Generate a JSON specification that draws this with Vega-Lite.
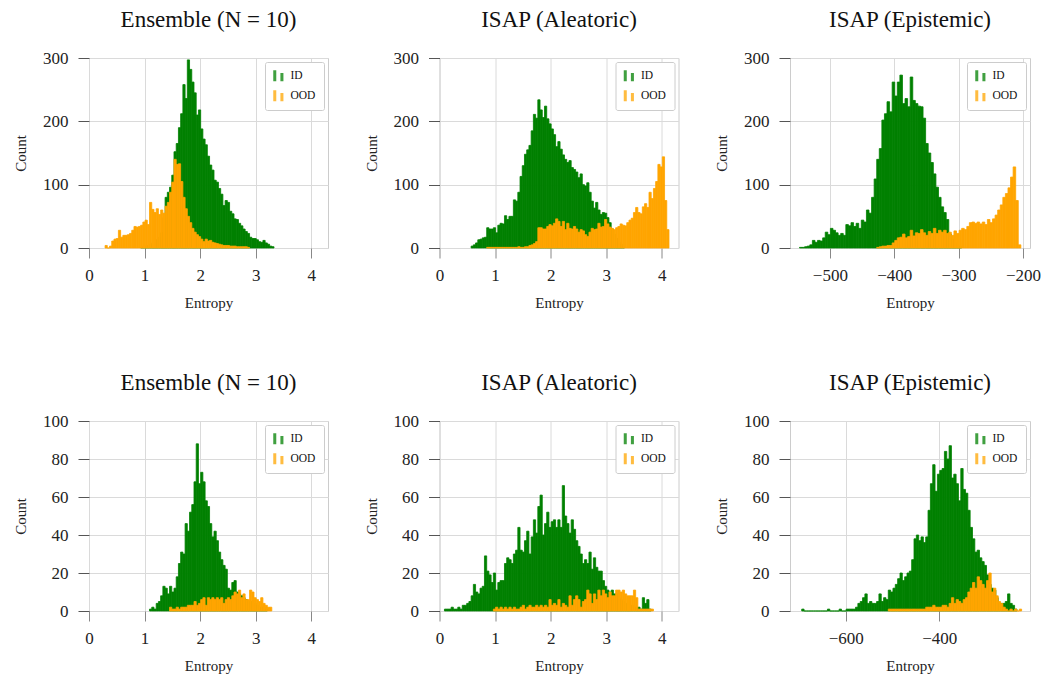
{
  "$schema": "https://vega.github.io/schema/vega-lite/v6.json",
  "padding": {"left": 13, "top": 8, "right": 5, "bottom": 5},
  "bounds": "flush",
  "columns": 3,
  "spacing": {"column": 111.5, "row": 173},
  "resolve": {"scale": {"color": "independent"}, "legend": {"color": "independent"}},
  "datasets": {
    "tl": [
      {"s":"ID","x":0.92,"c":1},{"s":"ID","x":0.96,"c":2},{"s":"ID","x":1.00,"c":3},{"s":"ID","x":1.04,"c":4},{"s":"ID","x":1.08,"c":6},{"s":"ID","x":1.12,"c":8},{"s":"ID","x":1.16,"c":10},{"s":"ID","x":1.20,"c":13},{"s":"ID","x":1.24,"c":17},{"s":"ID","x":1.28,"c":24},{"s":"ID","x":1.32,"c":48},{"s":"ID","x":1.36,"c":80},{"s":"ID","x":1.40,"c":88},{"s":"ID","x":1.44,"c":96},{"s":"ID","x":1.48,"c":115},{"s":"ID","x":1.52,"c":152},{"s":"ID","x":1.56,"c":165},{"s":"ID","x":1.60,"c":190},{"s":"ID","x":1.64,"c":212},{"s":"ID","x":1.68,"c":258},{"s":"ID","x":1.72,"c":236},{"s":"ID","x":1.76,"c":297},{"s":"ID","x":1.80,"c":282},{"s":"ID","x":1.84,"c":262},{"s":"ID","x":1.88,"c":245},{"s":"ID","x":1.92,"c":210},{"s":"ID","x":1.96,"c":218},{"s":"ID","x":2.00,"c":188},{"s":"ID","x":2.04,"c":172},{"s":"ID","x":2.08,"c":163},{"s":"ID","x":2.12,"c":145},{"s":"ID","x":2.16,"c":131},{"s":"ID","x":2.20,"c":123},{"s":"ID","x":2.24,"c":107},{"s":"ID","x":2.28,"c":104},{"s":"ID","x":2.32,"c":94},{"s":"ID","x":2.36,"c":85},{"s":"ID","x":2.40,"c":67},{"s":"ID","x":2.44,"c":75},{"s":"ID","x":2.48,"c":72},{"s":"ID","x":2.52,"c":58},{"s":"ID","x":2.56,"c":54},{"s":"ID","x":2.60,"c":46},{"s":"ID","x":2.64,"c":45},{"s":"ID","x":2.68,"c":39},{"s":"ID","x":2.72,"c":35},{"s":"ID","x":2.76,"c":30},{"s":"ID","x":2.80,"c":26},{"s":"ID","x":2.84,"c":23},{"s":"ID","x":2.88,"c":17},{"s":"ID","x":2.92,"c":15},{"s":"ID","x":2.96,"c":15},{"s":"ID","x":3.00,"c":13},{"s":"ID","x":3.04,"c":10},{"s":"ID","x":3.08,"c":9},{"s":"ID","x":3.12,"c":12},{"s":"ID","x":3.16,"c":8},{"s":"ID","x":3.20,"c":6},{"s":"ID","x":3.24,"c":3},{"s":"ID","x":3.28,"c":2},
      {"s":"OOD","x":0.28,"c":4},{"s":"OOD","x":0.32,"c":0},{"s":"OOD","x":0.36,"c":3},{"s":"OOD","x":0.40,"c":11},{"s":"OOD","x":0.44,"c":14},{"s":"OOD","x":0.48,"c":15},{"s":"OOD","x":0.52,"c":28},{"s":"OOD","x":0.56,"c":17},{"s":"OOD","x":0.60,"c":20},{"s":"OOD","x":0.64,"c":20},{"s":"OOD","x":0.68,"c":21},{"s":"OOD","x":0.72,"c":23},{"s":"OOD","x":0.76,"c":28},{"s":"OOD","x":0.80,"c":34},{"s":"OOD","x":0.84,"c":33},{"s":"OOD","x":0.88,"c":34},{"s":"OOD","x":0.92,"c":36},{"s":"OOD","x":0.96,"c":41},{"s":"OOD","x":1.00,"c":44},{"s":"OOD","x":1.04,"c":37},{"s":"OOD","x":1.08,"c":72},{"s":"OOD","x":1.12,"c":61},{"s":"OOD","x":1.16,"c":56},{"s":"OOD","x":1.20,"c":62},{"s":"OOD","x":1.24,"c":53},{"s":"OOD","x":1.28,"c":60},{"s":"OOD","x":1.32,"c":55},{"s":"OOD","x":1.36,"c":66},{"s":"OOD","x":1.40,"c":72},{"s":"OOD","x":1.44,"c":88},{"s":"OOD","x":1.48,"c":104},{"s":"OOD","x":1.52,"c":140},{"s":"OOD","x":1.56,"c":132},{"s":"OOD","x":1.60,"c":133},{"s":"OOD","x":1.64,"c":105},{"s":"OOD","x":1.68,"c":80},{"s":"OOD","x":1.72,"c":62},{"s":"OOD","x":1.76,"c":50},{"s":"OOD","x":1.80,"c":40},{"s":"OOD","x":1.84,"c":31},{"s":"OOD","x":1.88,"c":25},{"s":"OOD","x":1.92,"c":21},{"s":"OOD","x":1.96,"c":18},{"s":"OOD","x":2.00,"c":14},{"s":"OOD","x":2.04,"c":10},{"s":"OOD","x":2.08,"c":14},{"s":"OOD","x":2.12,"c":11},{"s":"OOD","x":2.16,"c":12},{"s":"OOD","x":2.20,"c":9},{"s":"OOD","x":2.24,"c":8},{"s":"OOD","x":2.28,"c":7},{"s":"OOD","x":2.32,"c":6},{"s":"OOD","x":2.36,"c":5},{"s":"OOD","x":2.40,"c":4},{"s":"OOD","x":2.44,"c":4},{"s":"OOD","x":2.48,"c":4},{"s":"OOD","x":2.52,"c":3},{"s":"OOD","x":2.56,"c":3},{"s":"OOD","x":2.60,"c":3},{"s":"OOD","x":2.64,"c":2},{"s":"OOD","x":2.68,"c":2},{"s":"OOD","x":2.72,"c":2},{"s":"OOD","x":2.76,"c":2},{"s":"OOD","x":2.80,"c":2},{"s":"OOD","x":2.84,"c":1}
    ],
    "tm": [
      {"s":"ID","x":0.56,"c":3},{"s":"ID","x":0.60,"c":5},{"s":"ID","x":0.64,"c":8},{"s":"ID","x":0.68,"c":13},{"s":"ID","x":0.72,"c":14},{"s":"ID","x":0.76,"c":16},{"s":"ID","x":0.80,"c":17},{"s":"ID","x":0.84,"c":32},{"s":"ID","x":0.88,"c":30},{"s":"ID","x":0.92,"c":30},{"s":"ID","x":0.96,"c":32},{"s":"ID","x":1.00,"c":24},{"s":"ID","x":1.04,"c":36},{"s":"ID","x":1.08,"c":39},{"s":"ID","x":1.12,"c":38},{"s":"ID","x":1.16,"c":51},{"s":"ID","x":1.20,"c":45},{"s":"ID","x":1.24,"c":50},{"s":"ID","x":1.28,"c":50},{"s":"ID","x":1.32,"c":76},{"s":"ID","x":1.36,"c":74},{"s":"ID","x":1.40,"c":88},{"s":"ID","x":1.44,"c":113},{"s":"ID","x":1.48,"c":130},{"s":"ID","x":1.52,"c":148},{"s":"ID","x":1.56,"c":155},{"s":"ID","x":1.60,"c":162},{"s":"ID","x":1.64,"c":185},{"s":"ID","x":1.68,"c":211},{"s":"ID","x":1.72,"c":205},{"s":"ID","x":1.76,"c":234},{"s":"ID","x":1.80,"c":218},{"s":"ID","x":1.84,"c":206},{"s":"ID","x":1.88,"c":224},{"s":"ID","x":1.92,"c":204},{"s":"ID","x":1.96,"c":196},{"s":"ID","x":2.00,"c":188},{"s":"ID","x":2.04,"c":179},{"s":"ID","x":2.08,"c":160},{"s":"ID","x":2.12,"c":168},{"s":"ID","x":2.16,"c":156},{"s":"ID","x":2.20,"c":147},{"s":"ID","x":2.24,"c":140},{"s":"ID","x":2.28,"c":135},{"s":"ID","x":2.32,"c":138},{"s":"ID","x":2.36,"c":127},{"s":"ID","x":2.40,"c":124},{"s":"ID","x":2.44,"c":120},{"s":"ID","x":2.48,"c":111},{"s":"ID","x":2.52,"c":117},{"s":"ID","x":2.56,"c":100},{"s":"ID","x":2.60,"c":98},{"s":"ID","x":2.64,"c":103},{"s":"ID","x":2.68,"c":88},{"s":"ID","x":2.72,"c":74},{"s":"ID","x":2.76,"c":63},{"s":"ID","x":2.80,"c":72},{"s":"ID","x":2.84,"c":60},{"s":"ID","x":2.88,"c":53},{"s":"ID","x":2.92,"c":56},{"s":"ID","x":2.96,"c":55},{"s":"ID","x":3.00,"c":48},{"s":"ID","x":3.04,"c":40},{"s":"ID","x":3.08,"c":30},{"s":"ID","x":3.12,"c":22},{"s":"ID","x":3.16,"c":15},{"s":"ID","x":3.20,"c":10},{"s":"ID","x":3.24,"c":6},{"s":"ID","x":3.28,"c":3},
      {"s":"OOD","x":0.84,"c":1},{"s":"OOD","x":0.88,"c":1},{"s":"OOD","x":0.92,"c":1},{"s":"OOD","x":0.96,"c":1},{"s":"OOD","x":1.00,"c":1},{"s":"OOD","x":1.04,"c":1},{"s":"OOD","x":1.08,"c":1},{"s":"OOD","x":1.12,"c":1},{"s":"OOD","x":1.16,"c":1},{"s":"OOD","x":1.20,"c":1},{"s":"OOD","x":1.24,"c":1},{"s":"OOD","x":1.28,"c":1},{"s":"OOD","x":1.32,"c":1},{"s":"OOD","x":1.36,"c":1},{"s":"OOD","x":1.40,"c":2},{"s":"OOD","x":1.44,"c":1},{"s":"OOD","x":1.48,"c":1},{"s":"OOD","x":1.52,"c":2},{"s":"OOD","x":1.56,"c":2},{"s":"OOD","x":1.60,"c":4},{"s":"OOD","x":1.64,"c":5},{"s":"OOD","x":1.68,"c":7},{"s":"OOD","x":1.72,"c":10},{"s":"OOD","x":1.76,"c":32},{"s":"OOD","x":1.80,"c":32},{"s":"OOD","x":1.84,"c":30},{"s":"OOD","x":1.88,"c":30},{"s":"OOD","x":1.92,"c":34},{"s":"OOD","x":1.96,"c":37},{"s":"OOD","x":2.00,"c":35},{"s":"OOD","x":2.04,"c":39},{"s":"OOD","x":2.08,"c":46},{"s":"OOD","x":2.12,"c":42},{"s":"OOD","x":2.16,"c":34},{"s":"OOD","x":2.20,"c":42},{"s":"OOD","x":2.24,"c":29},{"s":"OOD","x":2.28,"c":39},{"s":"OOD","x":2.32,"c":31},{"s":"OOD","x":2.36,"c":30},{"s":"OOD","x":2.40,"c":34},{"s":"OOD","x":2.44,"c":30},{"s":"OOD","x":2.48,"c":25},{"s":"OOD","x":2.52,"c":29},{"s":"OOD","x":2.56,"c":27},{"s":"OOD","x":2.60,"c":21},{"s":"OOD","x":2.64,"c":18},{"s":"OOD","x":2.68,"c":25},{"s":"OOD","x":2.72,"c":31},{"s":"OOD","x":2.76,"c":29},{"s":"OOD","x":2.80,"c":30},{"s":"OOD","x":2.84,"c":39},{"s":"OOD","x":2.88,"c":33},{"s":"OOD","x":2.92,"c":34},{"s":"OOD","x":2.96,"c":45},{"s":"OOD","x":3.00,"c":38},{"s":"OOD","x":3.04,"c":33},{"s":"OOD","x":3.08,"c":31},{"s":"OOD","x":3.12,"c":29},{"s":"OOD","x":3.16,"c":32},{"s":"OOD","x":3.20,"c":34},{"s":"OOD","x":3.24,"c":38},{"s":"OOD","x":3.28,"c":36},{"s":"OOD","x":3.32,"c":35},{"s":"OOD","x":3.36,"c":40},{"s":"OOD","x":3.40,"c":44},{"s":"OOD","x":3.44,"c":47},{"s":"OOD","x":3.48,"c":56},{"s":"OOD","x":3.52,"c":64},{"s":"OOD","x":3.56,"c":56},{"s":"OOD","x":3.60,"c":54},{"s":"OOD","x":3.64,"c":65},{"s":"OOD","x":3.68,"c":70},{"s":"OOD","x":3.72,"c":64},{"s":"OOD","x":3.76,"c":88},{"s":"OOD","x":3.80,"c":78},{"s":"OOD","x":3.84,"c":94},{"s":"OOD","x":3.88,"c":105},{"s":"OOD","x":3.92,"c":132},{"s":"OOD","x":3.96,"c":128},{"s":"OOD","x":4.00,"c":144},{"s":"OOD","x":4.04,"c":75},{"s":"OOD","x":4.08,"c":29}
    ],
    "tr": [
      {"s":"ID","x":-548,"c":1},{"s":"ID","x":-544,"c":1},{"s":"ID","x":-540,"c":2},{"s":"ID","x":-536,"c":3},{"s":"ID","x":-532,"c":5},{"s":"ID","x":-528,"c":12},{"s":"ID","x":-524,"c":9},{"s":"ID","x":-520,"c":12},{"s":"ID","x":-516,"c":11},{"s":"ID","x":-512,"c":16},{"s":"ID","x":-508,"c":25},{"s":"ID","x":-504,"c":21},{"s":"ID","x":-500,"c":31},{"s":"ID","x":-496,"c":28},{"s":"ID","x":-492,"c":24},{"s":"ID","x":-488,"c":20},{"s":"ID","x":-484,"c":23},{"s":"ID","x":-480,"c":20},{"s":"ID","x":-476,"c":37},{"s":"ID","x":-472,"c":35},{"s":"ID","x":-468,"c":40},{"s":"ID","x":-464,"c":34},{"s":"ID","x":-460,"c":39},{"s":"ID","x":-456,"c":31},{"s":"ID","x":-452,"c":44},{"s":"ID","x":-448,"c":41},{"s":"ID","x":-444,"c":60},{"s":"ID","x":-440,"c":55},{"s":"ID","x":-436,"c":80},{"s":"ID","x":-432,"c":109},{"s":"ID","x":-428,"c":140},{"s":"ID","x":-424,"c":157},{"s":"ID","x":-420,"c":202},{"s":"ID","x":-416,"c":212},{"s":"ID","x":-412,"c":231},{"s":"ID","x":-408,"c":215},{"s":"ID","x":-404,"c":262},{"s":"ID","x":-400,"c":240},{"s":"ID","x":-396,"c":262},{"s":"ID","x":-392,"c":273},{"s":"ID","x":-388,"c":228},{"s":"ID","x":-384,"c":236},{"s":"ID","x":-380,"c":223},{"s":"ID","x":-376,"c":270},{"s":"ID","x":-372,"c":233},{"s":"ID","x":-368,"c":228},{"s":"ID","x":-364,"c":224},{"s":"ID","x":-360,"c":223},{"s":"ID","x":-356,"c":205},{"s":"ID","x":-352,"c":165},{"s":"ID","x":-348,"c":150},{"s":"ID","x":-344,"c":135},{"s":"ID","x":-340,"c":117},{"s":"ID","x":-336,"c":96},{"s":"ID","x":-332,"c":80},{"s":"ID","x":-328,"c":65},{"s":"ID","x":-324,"c":56},{"s":"ID","x":-320,"c":45},{"s":"ID","x":-316,"c":22},{"s":"ID","x":-312,"c":14},{"s":"ID","x":-308,"c":8},{"s":"ID","x":-304,"c":4},{"s":"ID","x":-300,"c":2},
      {"s":"OOD","x":-428,"c":1},{"s":"OOD","x":-424,"c":2},{"s":"OOD","x":-420,"c":3},{"s":"OOD","x":-416,"c":3},{"s":"OOD","x":-412,"c":4},{"s":"OOD","x":-408,"c":4},{"s":"OOD","x":-404,"c":8},{"s":"OOD","x":-400,"c":12},{"s":"OOD","x":-396,"c":16},{"s":"OOD","x":-392,"c":17},{"s":"OOD","x":-388,"c":22},{"s":"OOD","x":-384,"c":16},{"s":"OOD","x":-380,"c":18},{"s":"OOD","x":-376,"c":28},{"s":"OOD","x":-372,"c":19},{"s":"OOD","x":-368,"c":24},{"s":"OOD","x":-364,"c":23},{"s":"OOD","x":-360,"c":29},{"s":"OOD","x":-356,"c":24},{"s":"OOD","x":-352,"c":20},{"s":"OOD","x":-348,"c":26},{"s":"OOD","x":-344,"c":23},{"s":"OOD","x":-340,"c":31},{"s":"OOD","x":-336,"c":23},{"s":"OOD","x":-332,"c":28},{"s":"OOD","x":-328,"c":25},{"s":"OOD","x":-324,"c":28},{"s":"OOD","x":-320,"c":23},{"s":"OOD","x":-316,"c":25},{"s":"OOD","x":-312,"c":20},{"s":"OOD","x":-308,"c":27},{"s":"OOD","x":-304,"c":23},{"s":"OOD","x":-300,"c":28},{"s":"OOD","x":-296,"c":31},{"s":"OOD","x":-292,"c":29},{"s":"OOD","x":-288,"c":34},{"s":"OOD","x":-284,"c":40},{"s":"OOD","x":-280,"c":41},{"s":"OOD","x":-276,"c":39},{"s":"OOD","x":-272,"c":41},{"s":"OOD","x":-268,"c":38},{"s":"OOD","x":-264,"c":41},{"s":"OOD","x":-260,"c":37},{"s":"OOD","x":-256,"c":45},{"s":"OOD","x":-252,"c":40},{"s":"OOD","x":-248,"c":46},{"s":"OOD","x":-244,"c":52},{"s":"OOD","x":-240,"c":60},{"s":"OOD","x":-236,"c":68},{"s":"OOD","x":-232,"c":80},{"s":"OOD","x":-228,"c":86},{"s":"OOD","x":-224,"c":95},{"s":"OOD","x":-220,"c":112},{"s":"OOD","x":-216,"c":128},{"s":"OOD","x":-212,"c":75},{"s":"OOD","x":-208,"c":5}
    ],
    "bl": [
      {"s":"ID","x":1.08,"c":1},{"s":"ID","x":1.12,"c":2},{"s":"ID","x":1.16,"c":1},{"s":"ID","x":1.20,"c":4},{"s":"ID","x":1.24,"c":5},{"s":"ID","x":1.28,"c":8},{"s":"ID","x":1.32,"c":13},{"s":"ID","x":1.36,"c":12},{"s":"ID","x":1.40,"c":9},{"s":"ID","x":1.44,"c":13},{"s":"ID","x":1.48,"c":10},{"s":"ID","x":1.52,"c":12},{"s":"ID","x":1.56,"c":18},{"s":"ID","x":1.60,"c":25},{"s":"ID","x":1.64,"c":31},{"s":"ID","x":1.68,"c":30},{"s":"ID","x":1.72,"c":46},{"s":"ID","x":1.76,"c":42},{"s":"ID","x":1.80,"c":52},{"s":"ID","x":1.84,"c":56},{"s":"ID","x":1.88,"c":68},{"s":"ID","x":1.92,"c":88},{"s":"ID","x":1.96,"c":67},{"s":"ID","x":2.00,"c":73},{"s":"ID","x":2.04,"c":68},{"s":"ID","x":2.08,"c":58},{"s":"ID","x":2.12,"c":55},{"s":"ID","x":2.16,"c":46},{"s":"ID","x":2.20,"c":39},{"s":"ID","x":2.24,"c":42},{"s":"ID","x":2.28,"c":37},{"s":"ID","x":2.32,"c":31},{"s":"ID","x":2.36,"c":27},{"s":"ID","x":2.40,"c":24},{"s":"ID","x":2.44,"c":22},{"s":"ID","x":2.48,"c":12},{"s":"ID","x":2.52,"c":11},{"s":"ID","x":2.56,"c":15},{"s":"ID","x":2.60,"c":16},{"s":"ID","x":2.64,"c":10},{"s":"ID","x":2.68,"c":9},{"s":"ID","x":2.72,"c":8},{"s":"ID","x":2.76,"c":7},{"s":"ID","x":2.80,"c":6},{"s":"ID","x":2.84,"c":5},{"s":"ID","x":2.88,"c":5},{"s":"ID","x":2.92,"c":4},{"s":"ID","x":2.96,"c":4},{"s":"ID","x":3.00,"c":3},{"s":"ID","x":3.04,"c":2},{"s":"ID","x":3.08,"c":2},{"s":"ID","x":3.12,"c":2},{"s":"ID","x":3.16,"c":1},
      {"s":"OOD","x":1.44,"c":2},{"s":"OOD","x":1.48,"c":1},{"s":"OOD","x":1.52,"c":1},{"s":"OOD","x":1.56,"c":2},{"s":"OOD","x":1.60,"c":1},{"s":"OOD","x":1.64,"c":2},{"s":"OOD","x":1.68,"c":2},{"s":"OOD","x":1.72,"c":2},{"s":"OOD","x":1.76,"c":3},{"s":"OOD","x":1.80,"c":3},{"s":"OOD","x":1.84,"c":3},{"s":"OOD","x":1.88,"c":5},{"s":"OOD","x":1.92,"c":3},{"s":"OOD","x":1.96,"c":4},{"s":"OOD","x":2.00,"c":6},{"s":"OOD","x":2.04,"c":7},{"s":"OOD","x":2.08,"c":3},{"s":"OOD","x":2.12,"c":7},{"s":"OOD","x":2.16,"c":6},{"s":"OOD","x":2.20,"c":7},{"s":"OOD","x":2.24,"c":6},{"s":"OOD","x":2.28,"c":7},{"s":"OOD","x":2.32,"c":6},{"s":"OOD","x":2.36,"c":7},{"s":"OOD","x":2.40,"c":4},{"s":"OOD","x":2.44,"c":6},{"s":"OOD","x":2.48,"c":7},{"s":"OOD","x":2.52,"c":6},{"s":"OOD","x":2.56,"c":8},{"s":"OOD","x":2.60,"c":10},{"s":"OOD","x":2.64,"c":9},{"s":"OOD","x":2.68,"c":11},{"s":"OOD","x":2.72,"c":7},{"s":"OOD","x":2.76,"c":9},{"s":"OOD","x":2.80,"c":6},{"s":"OOD","x":2.84,"c":6},{"s":"OOD","x":2.88,"c":11},{"s":"OOD","x":2.92,"c":10},{"s":"OOD","x":2.96,"c":7},{"s":"OOD","x":3.00,"c":6},{"s":"OOD","x":3.04,"c":5},{"s":"OOD","x":3.08,"c":7},{"s":"OOD","x":3.12,"c":4},{"s":"OOD","x":3.16,"c":3},{"s":"OOD","x":3.20,"c":2},{"s":"OOD","x":3.24,"c":2}
    ],
    "bm": [
      {"s":"ID","x":0.08,"c":1},{"s":"ID","x":0.12,"c":1},{"s":"ID","x":0.16,"c":1},{"s":"ID","x":0.20,"c":2},{"s":"ID","x":0.24,"c":1},{"s":"ID","x":0.28,"c":1},{"s":"ID","x":0.32,"c":2},{"s":"ID","x":0.36,"c":1},{"s":"ID","x":0.40,"c":3},{"s":"ID","x":0.44,"c":3},{"s":"ID","x":0.48,"c":4},{"s":"ID","x":0.52,"c":5},{"s":"ID","x":0.56,"c":8},{"s":"ID","x":0.60,"c":14},{"s":"ID","x":0.64,"c":10},{"s":"ID","x":0.68,"c":9},{"s":"ID","x":0.72,"c":12},{"s":"ID","x":0.76,"c":13},{"s":"ID","x":0.80,"c":29},{"s":"ID","x":0.84,"c":21},{"s":"ID","x":0.88,"c":19},{"s":"ID","x":0.92,"c":15},{"s":"ID","x":0.96,"c":20},{"s":"ID","x":1.00,"c":11},{"s":"ID","x":1.04,"c":15},{"s":"ID","x":1.08,"c":16},{"s":"ID","x":1.12,"c":16},{"s":"ID","x":1.16,"c":25},{"s":"ID","x":1.20,"c":28},{"s":"ID","x":1.24,"c":27},{"s":"ID","x":1.28,"c":25},{"s":"ID","x":1.32,"c":30},{"s":"ID","x":1.36,"c":32},{"s":"ID","x":1.40,"c":44},{"s":"ID","x":1.44,"c":32},{"s":"ID","x":1.48,"c":31},{"s":"ID","x":1.52,"c":37},{"s":"ID","x":1.56,"c":42},{"s":"ID","x":1.60,"c":30},{"s":"ID","x":1.64,"c":39},{"s":"ID","x":1.68,"c":48},{"s":"ID","x":1.72,"c":41},{"s":"ID","x":1.76,"c":55},{"s":"ID","x":1.80,"c":61},{"s":"ID","x":1.84,"c":40},{"s":"ID","x":1.88,"c":46},{"s":"ID","x":1.92,"c":52},{"s":"ID","x":1.96,"c":44},{"s":"ID","x":2.00,"c":47},{"s":"ID","x":2.04,"c":48},{"s":"ID","x":2.08,"c":44},{"s":"ID","x":2.12,"c":48},{"s":"ID","x":2.16,"c":44},{"s":"ID","x":2.20,"c":66},{"s":"ID","x":2.24,"c":50},{"s":"ID","x":2.28,"c":46},{"s":"ID","x":2.32,"c":41},{"s":"ID","x":2.36,"c":48},{"s":"ID","x":2.40,"c":43},{"s":"ID","x":2.44,"c":37},{"s":"ID","x":2.48,"c":34},{"s":"ID","x":2.52,"c":30},{"s":"ID","x":2.56,"c":25},{"s":"ID","x":2.60,"c":27},{"s":"ID","x":2.64,"c":25},{"s":"ID","x":2.68,"c":31},{"s":"ID","x":2.72,"c":22},{"s":"ID","x":2.76,"c":28},{"s":"ID","x":2.80,"c":23},{"s":"ID","x":2.84,"c":21},{"s":"ID","x":2.88,"c":21},{"s":"ID","x":2.92,"c":16},{"s":"ID","x":2.96,"c":13},{"s":"ID","x":3.00,"c":11},{"s":"ID","x":3.04,"c":10},{"s":"ID","x":3.08,"c":11},{"s":"ID","x":3.12,"c":9},{"s":"ID","x":3.16,"c":9},{"s":"ID","x":3.20,"c":7},{"s":"ID","x":3.24,"c":6},{"s":"ID","x":3.28,"c":5},{"s":"ID","x":3.32,"c":4},{"s":"ID","x":3.36,"c":4},{"s":"ID","x":3.40,"c":3},{"s":"ID","x":3.44,"c":3},{"s":"ID","x":3.48,"c":2},{"s":"ID","x":3.52,"c":2},{"s":"ID","x":3.56,"c":2},{"s":"ID","x":3.60,"c":1},{"s":"ID","x":3.64,"c":7},{"s":"ID","x":3.68,"c":4},{"s":"ID","x":3.72,"c":6},{"s":"ID","x":3.76,"c":1},
      {"s":"OOD","x":0.96,"c":1},{"s":"OOD","x":1.00,"c":2},{"s":"OOD","x":1.04,"c":1},{"s":"OOD","x":1.08,"c":2},{"s":"OOD","x":1.12,"c":1},{"s":"OOD","x":1.16,"c":2},{"s":"OOD","x":1.20,"c":1},{"s":"OOD","x":1.24,"c":2},{"s":"OOD","x":1.28,"c":1},{"s":"OOD","x":1.32,"c":2},{"s":"OOD","x":1.36,"c":1},{"s":"OOD","x":1.40,"c":1},{"s":"OOD","x":1.44,"c":2},{"s":"OOD","x":1.48,"c":3},{"s":"OOD","x":1.52,"c":1},{"s":"OOD","x":1.56,"c":2},{"s":"OOD","x":1.60,"c":3},{"s":"OOD","x":1.64,"c":2},{"s":"OOD","x":1.68,"c":2},{"s":"OOD","x":1.72,"c":3},{"s":"OOD","x":1.76,"c":2},{"s":"OOD","x":1.80,"c":3},{"s":"OOD","x":1.84,"c":2},{"s":"OOD","x":1.88,"c":3},{"s":"OOD","x":1.92,"c":2},{"s":"OOD","x":1.96,"c":6},{"s":"OOD","x":2.00,"c":3},{"s":"OOD","x":2.04,"c":4},{"s":"OOD","x":2.08,"c":3},{"s":"OOD","x":2.12,"c":6},{"s":"OOD","x":2.16,"c":2},{"s":"OOD","x":2.20,"c":4},{"s":"OOD","x":2.24,"c":3},{"s":"OOD","x":2.28,"c":2},{"s":"OOD","x":2.32,"c":8},{"s":"OOD","x":2.36,"c":3},{"s":"OOD","x":2.40,"c":6},{"s":"OOD","x":2.44,"c":8},{"s":"OOD","x":2.48,"c":6},{"s":"OOD","x":2.52,"c":2},{"s":"OOD","x":2.56,"c":5},{"s":"OOD","x":2.60,"c":6},{"s":"OOD","x":2.64,"c":11},{"s":"OOD","x":2.68,"c":9},{"s":"OOD","x":2.72,"c":4},{"s":"OOD","x":2.76,"c":9},{"s":"OOD","x":2.80,"c":6},{"s":"OOD","x":2.84,"c":11},{"s":"OOD","x":2.88,"c":8},{"s":"OOD","x":2.92,"c":11},{"s":"OOD","x":2.96,"c":9},{"s":"OOD","x":3.00,"c":7},{"s":"OOD","x":3.04,"c":10},{"s":"OOD","x":3.08,"c":8},{"s":"OOD","x":3.12,"c":8},{"s":"OOD","x":3.16,"c":11},{"s":"OOD","x":3.20,"c":11},{"s":"OOD","x":3.24,"c":10},{"s":"OOD","x":3.28,"c":11},{"s":"OOD","x":3.32,"c":9},{"s":"OOD","x":3.36,"c":8},{"s":"OOD","x":3.40,"c":8},{"s":"OOD","x":3.44,"c":8},{"s":"OOD","x":3.48,"c":11},{"s":"OOD","x":3.52,"c":7},{"s":"OOD","x":3.56,"c":1},{"s":"OOD","x":3.60,"c":1},{"s":"OOD","x":3.64,"c":1},{"s":"OOD","x":3.68,"c":1},{"s":"OOD","x":3.72,"c":1},{"s":"OOD","x":3.76,"c":1},{"s":"OOD","x":3.80,"c":1}
    ],
    "br": [
      {"s":"ID","x":-695,"c":1},{"s":"ID","x":-690,"c":0},{"s":"ID","x":-685,"c":0},{"s":"ID","x":-680,"c":0},{"s":"ID","x":-675,"c":0},{"s":"ID","x":-670,"c":0},{"s":"ID","x":-665,"c":0},{"s":"ID","x":-660,"c":0},{"s":"ID","x":-655,"c":0},{"s":"ID","x":-650,"c":0},{"s":"ID","x":-645,"c":0},{"s":"ID","x":-640,"c":1},{"s":"ID","x":-635,"c":0},{"s":"ID","x":-630,"c":0},{"s":"ID","x":-625,"c":0},{"s":"ID","x":-620,"c":0},{"s":"ID","x":-615,"c":1},{"s":"ID","x":-610,"c":0},{"s":"ID","x":-605,"c":0},{"s":"ID","x":-600,"c":1},{"s":"ID","x":-595,"c":1},{"s":"ID","x":-590,"c":1},{"s":"ID","x":-585,"c":1},{"s":"ID","x":-580,"c":2},{"s":"ID","x":-575,"c":4},{"s":"ID","x":-570,"c":5},{"s":"ID","x":-565,"c":7},{"s":"ID","x":-560,"c":9},{"s":"ID","x":-555,"c":4},{"s":"ID","x":-550,"c":5},{"s":"ID","x":-545,"c":4},{"s":"ID","x":-540,"c":4},{"s":"ID","x":-535,"c":5},{"s":"ID","x":-530,"c":9},{"s":"ID","x":-525,"c":5},{"s":"ID","x":-520,"c":7},{"s":"ID","x":-515,"c":6},{"s":"ID","x":-510,"c":11},{"s":"ID","x":-505,"c":10},{"s":"ID","x":-500,"c":12},{"s":"ID","x":-495,"c":14},{"s":"ID","x":-490,"c":17},{"s":"ID","x":-485,"c":20},{"s":"ID","x":-480,"c":16},{"s":"ID","x":-475,"c":18},{"s":"ID","x":-470,"c":20},{"s":"ID","x":-465,"c":21},{"s":"ID","x":-460,"c":27},{"s":"ID","x":-455,"c":38},{"s":"ID","x":-450,"c":40},{"s":"ID","x":-445,"c":37},{"s":"ID","x":-440,"c":39},{"s":"ID","x":-435,"c":36},{"s":"ID","x":-430,"c":39},{"s":"ID","x":-425,"c":53},{"s":"ID","x":-420,"c":67},{"s":"ID","x":-415,"c":77},{"s":"ID","x":-410,"c":63},{"s":"ID","x":-405,"c":72},{"s":"ID","x":-400,"c":74},{"s":"ID","x":-395,"c":75},{"s":"ID","x":-390,"c":84},{"s":"ID","x":-385,"c":80},{"s":"ID","x":-380,"c":87},{"s":"ID","x":-375,"c":70},{"s":"ID","x":-370,"c":72},{"s":"ID","x":-365,"c":67},{"s":"ID","x":-360,"c":58},{"s":"ID","x":-355,"c":75},{"s":"ID","x":-350,"c":64},{"s":"ID","x":-345,"c":62},{"s":"ID","x":-340,"c":53},{"s":"ID","x":-335,"c":44},{"s":"ID","x":-330,"c":38},{"s":"ID","x":-325,"c":31},{"s":"ID","x":-320,"c":32},{"s":"ID","x":-315,"c":28},{"s":"ID","x":-310,"c":26},{"s":"ID","x":-305,"c":24},{"s":"ID","x":-300,"c":19},{"s":"ID","x":-295,"c":14},{"s":"ID","x":-290,"c":12},{"s":"ID","x":-285,"c":11},{"s":"ID","x":-280,"c":7},{"s":"ID","x":-275,"c":4},{"s":"ID","x":-270,"c":4},{"s":"ID","x":-265,"c":4},{"s":"ID","x":-260,"c":5},{"s":"ID","x":-255,"c":9},{"s":"ID","x":-250,"c":4},{"s":"ID","x":-245,"c":3},{"s":"ID","x":-240,"c":1},
      {"s":"OOD","x":-510,"c":1},{"s":"OOD","x":-505,"c":1},{"s":"OOD","x":-500,"c":1},{"s":"OOD","x":-495,"c":1},{"s":"OOD","x":-490,"c":1},{"s":"OOD","x":-485,"c":1},{"s":"OOD","x":-480,"c":1},{"s":"OOD","x":-475,"c":1},{"s":"OOD","x":-470,"c":1},{"s":"OOD","x":-465,"c":1},{"s":"OOD","x":-460,"c":1},{"s":"OOD","x":-455,"c":1},{"s":"OOD","x":-450,"c":1},{"s":"OOD","x":-445,"c":1},{"s":"OOD","x":-440,"c":1},{"s":"OOD","x":-435,"c":1},{"s":"OOD","x":-430,"c":2},{"s":"OOD","x":-425,"c":2},{"s":"OOD","x":-420,"c":2},{"s":"OOD","x":-415,"c":3},{"s":"OOD","x":-410,"c":2},{"s":"OOD","x":-405,"c":2},{"s":"OOD","x":-400,"c":2},{"s":"OOD","x":-395,"c":3},{"s":"OOD","x":-390,"c":3},{"s":"OOD","x":-385,"c":2},{"s":"OOD","x":-380,"c":4},{"s":"OOD","x":-375,"c":7},{"s":"OOD","x":-370,"c":4},{"s":"OOD","x":-365,"c":6},{"s":"OOD","x":-360,"c":5},{"s":"OOD","x":-355,"c":4},{"s":"OOD","x":-350,"c":6},{"s":"OOD","x":-345,"c":7},{"s":"OOD","x":-340,"c":10},{"s":"OOD","x":-335,"c":12},{"s":"OOD","x":-330,"c":15},{"s":"OOD","x":-325,"c":12},{"s":"OOD","x":-320,"c":18},{"s":"OOD","x":-315,"c":16},{"s":"OOD","x":-310,"c":14},{"s":"OOD","x":-305,"c":12},{"s":"OOD","x":-300,"c":16},{"s":"OOD","x":-295,"c":20},{"s":"OOD","x":-290,"c":10},{"s":"OOD","x":-285,"c":12},{"s":"OOD","x":-280,"c":8},{"s":"OOD","x":-275,"c":5},{"s":"OOD","x":-270,"c":4},{"s":"OOD","x":-265,"c":2},{"s":"OOD","x":-260,"c":1},{"s":"OOD","x":-255,"c":0},{"s":"OOD","x":-250,"c":1},{"s":"OOD","x":-245,"c":0},{"s":"OOD","x":-240,"c":1},{"s":"OOD","x":-235,"c":0},{"s":"OOD","x":-230,"c":1}
    ]
  },
  "concat": [
    {
      "title": "Ensemble (N = 10)",
      "width": 239, "height": 190,
      "data": {"name": "tl"},
      "mark": {"type": "bar", "binSpacing": 0, "strokeWidth": 0.8},
      "encoding": {
        "x": {"field": "x", "type": "quantitative", "bin": {"binned": true, "step": 0.04}, "scale": {"domain": [0, 4.3], "nice": false, "zero": false}, "axis": {"values": [0, 1, 2, 3, 4], "title": "Entropy", "format": "d"}},
        "y": {"field": "c", "type": "quantitative", "stack": null, "scale": {"domain": [0, 300], "nice": false}, "axis": {"values": [0, 100, 200, 300], "title": "Count"}},
        "color": {"field": "s", "type": "nominal", "scale": {"domain": ["ID", "OOD"], "range": ["#008000", "#ffa500"]}},
        "stroke": {"field": "s", "type": "nominal", "scale": {"domain": ["ID", "OOD"], "range": ["#008000", "#ffa500"]}, "legend": null}
      }
    },
    {
      "title": "ISAP (Aleatoric)",
      "width": 239, "height": 190,
      "data": {"name": "tm"},
      "mark": {"type": "bar", "binSpacing": 0, "strokeWidth": 0.8},
      "encoding": {
        "x": {"field": "x", "type": "quantitative", "bin": {"binned": true, "step": 0.04}, "scale": {"domain": [0, 4.3], "nice": false, "zero": false}, "axis": {"values": [0, 1, 2, 3, 4], "title": "Entropy", "format": "d"}},
        "y": {"field": "c", "type": "quantitative", "stack": null, "scale": {"domain": [0, 300], "nice": false}, "axis": {"values": [0, 100, 200, 300], "title": "Count"}},
        "color": {"field": "s", "type": "nominal", "scale": {"domain": ["ID", "OOD"], "range": ["#008000", "#ffa500"]}},
        "stroke": {"field": "s", "type": "nominal", "scale": {"domain": ["ID", "OOD"], "range": ["#008000", "#ffa500"]}, "legend": null}
      }
    },
    {
      "title": "ISAP (Epistemic)",
      "width": 240, "height": 190,
      "data": {"name": "tr"},
      "mark": {"type": "bar", "binSpacing": 0, "strokeWidth": 0.8},
      "encoding": {
        "x": {"field": "x", "type": "quantitative", "bin": {"binned": true, "step": 4}, "scale": {"domain": [-562, -189], "nice": false, "zero": false}, "axis": {"values": [-500, -400, -300, -200], "title": "Entropy", "format": "d"}},
        "y": {"field": "c", "type": "quantitative", "stack": null, "scale": {"domain": [0, 300], "nice": false}, "axis": {"values": [0, 100, 200, 300], "title": "Count"}},
        "color": {"field": "s", "type": "nominal", "scale": {"domain": ["ID", "OOD"], "range": ["#008000", "#ffa500"]}},
        "stroke": {"field": "s", "type": "nominal", "scale": {"domain": ["ID", "OOD"], "range": ["#008000", "#ffa500"]}, "legend": null}
      }
    },
    {
      "title": "Ensemble (N = 10)",
      "width": 239, "height": 190,
      "data": {"name": "bl"},
      "mark": {"type": "bar", "binSpacing": 0, "strokeWidth": 0.8},
      "encoding": {
        "x": {"field": "x", "type": "quantitative", "bin": {"binned": true, "step": 0.04}, "scale": {"domain": [0, 4.3], "nice": false, "zero": false}, "axis": {"values": [0, 1, 2, 3, 4], "title": "Entropy", "format": "d"}},
        "y": {"field": "c", "type": "quantitative", "stack": null, "scale": {"domain": [0, 100], "nice": false}, "axis": {"values": [0, 20, 40, 60, 80, 100], "title": "Count"}},
        "color": {"field": "s", "type": "nominal", "scale": {"domain": ["ID", "OOD"], "range": ["#008000", "#ffa500"]}},
        "stroke": {"field": "s", "type": "nominal", "scale": {"domain": ["ID", "OOD"], "range": ["#008000", "#ffa500"]}, "legend": null}
      }
    },
    {
      "title": "ISAP (Aleatoric)",
      "width": 239, "height": 190,
      "data": {"name": "bm"},
      "mark": {"type": "bar", "binSpacing": 0, "strokeWidth": 0.8},
      "encoding": {
        "x": {"field": "x", "type": "quantitative", "bin": {"binned": true, "step": 0.04}, "scale": {"domain": [0, 4.3], "nice": false, "zero": false}, "axis": {"values": [0, 1, 2, 3, 4], "title": "Entropy", "format": "d"}},
        "y": {"field": "c", "type": "quantitative", "stack": null, "scale": {"domain": [0, 100], "nice": false}, "axis": {"values": [0, 20, 40, 60, 80, 100], "title": "Count"}},
        "color": {"field": "s", "type": "nominal", "scale": {"domain": ["ID", "OOD"], "range": ["#008000", "#ffa500"]}},
        "stroke": {"field": "s", "type": "nominal", "scale": {"domain": ["ID", "OOD"], "range": ["#008000", "#ffa500"]}, "legend": null}
      }
    },
    {
      "title": "ISAP (Epistemic)",
      "width": 240, "height": 190,
      "data": {"name": "br"},
      "mark": {"type": "bar", "binSpacing": 0, "strokeWidth": 0.8},
      "encoding": {
        "x": {"field": "x", "type": "quantitative", "bin": {"binned": true, "step": 5}, "scale": {"domain": [-719, -206], "nice": false, "zero": false}, "axis": {"values": [-600, -400], "title": "Entropy", "format": "d"}},
        "y": {"field": "c", "type": "quantitative", "stack": null, "scale": {"domain": [0, 100], "nice": false}, "axis": {"values": [0, 20, 40, 60, 80, 100], "title": "Count"}},
        "color": {"field": "s", "type": "nominal", "scale": {"domain": ["ID", "OOD"], "range": ["#008000", "#ffa500"]}},
        "stroke": {"field": "s", "type": "nominal", "scale": {"domain": ["ID", "OOD"], "range": ["#008000", "#ffa500"]}, "legend": null}
      }
    }
  ],
  "config": {
    "font": "Liberation Serif",
    "view": {"stroke": "#cccccc", "strokeWidth": 1},
    "axis": {
      "grid": true, "gridColor": "#dadada", "gridWidth": 1, "domain": false,
      "tickColor": "#555555", "tickSize": 11,
      "labelFont": "Liberation Serif", "labelFontSize": 17, "labelColor": "#222222",
      "titleFont": "Liberation Serif", "titleFontSize": 15, "titleFontWeight": "normal", "titleColor": "#222222"
    },
    "axisX": {"tickColor": "#888888", "tickSize": 10, "labelPadding": 9, "titlePadding": 12, "labelFlush": false},
    "axisY": {"labelPadding": 10, "titlePadding": 14},
    "title": {"font": "Liberation Serif", "fontSize": 23, "fontWeight": "normal", "color": "#111111", "offset": 17, "frame": "group", "anchor": "middle"},
    "legend": {
      "title": null, "orient": "top-right", "offset": 4,
      "symbolType": "M-1,-1H-0.45V1H-1Z M0.3,-0.5H0.85V1H0.3Z",
      "symbolSize": 121, "symbolOpacity": 0.75, "symbolStrokeWidth": 0,
      "labelFont": "Liberation Serif", "labelFontSize": 11.5, "labelColor": "#111111", "labelOffset": 6,
      "padding": 8, "rowPadding": 7, "strokeColor": "#cccccc", "fillColor": "#ffffff", "cornerRadius": 2
    }
  }
}
